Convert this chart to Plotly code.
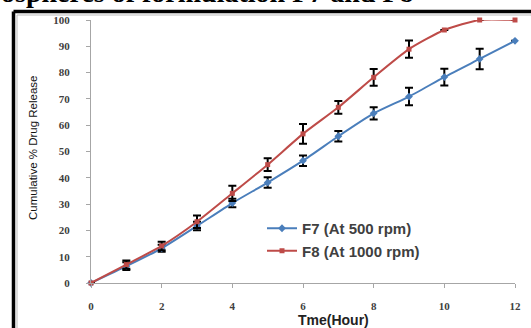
import plotly.graph_objects as go

time_h = [0, 1, 2, 3, 4, 5, 6, 7, 8, 9, 10, 11, 12]
f7_release = [0, 6.4, 13.2, 21.7, 30.4, 38.2, 46.5, 55.8, 64.5, 70.9, 78.3, 85.2, 92.1]
f7_err = [0, 1.5, 1.3, 1.6, 1.6, 2.0, 2.0, 2.0, 2.3, 3.3, 3.2, 3.9, 0]
f8_release = [0, 7.0, 14.1, 23.3, 34.1, 45.0, 56.7, 66.8, 78.2, 88.9, 96.2, 100, 100]
f8_err = [0, 1.6, 1.6, 2.4, 2.9, 2.4, 3.8, 2.4, 3.2, 3.3, 0, 0, 0]

x_ticks = [0, 2, 4, 6, 8, 10, 12]
y_ticks = [0, 10, 20, 30, 40, 50, 60, 70, 80, 90, 100]

# plot-area pixel geometry helpers
L, R, T, B = 91, 515, 20, 283
def px(x):
    return (x - L) / (R - L)
def py(y):
    return (B - y) / (B - T)

fig = go.Figure()

fig.add_trace(go.Scatter(
    x=time_h, y=f7_release, name="F7 (At 500 rpm)",
    mode="lines+markers", line=dict(color="#4a7ebb", width=2, shape="spline", smoothing=0.6),
    marker=dict(symbol="diamond", size=6, color="#4a7ebb"),
    error_y=dict(type="data", array=f7_err, visible=True, color="black", thickness=2, width=4),
    cliponaxis=False,
))
fig.add_trace(go.Scatter(
    x=time_h, y=f8_release, name="F8 (At 1000 rpm)",
    mode="lines+markers", line=dict(color="#be4b48", width=2, shape="spline", smoothing=0.6),
    marker=dict(symbol="square", size=5, color="#be4b48"),
    error_y=dict(type="data", array=f8_err, visible=True, color="black", thickness=2, width=4),
    cliponaxis=False,
))

tick_font = dict(family="Liberation Serif", size=11, color="#404040", weight="bold")

fig.update_layout(
    width=531, height=328,
    margin=dict(l=L, r=531 - R, t=T, b=328 - B, autoexpand=False),
    paper_bgcolor="white", plot_bgcolor="white",
    showlegend=True,
    legend=dict(x=px(262), y=py(212), xanchor="left", yanchor="top",
                font=dict(family="Liberation Sans", size=15, color="#404040", weight="bold"),
                bgcolor="rgba(0,0,0,0)", tracegroupgap=0),
    xaxis=dict(range=[0, 12], tickvals=x_ticks, showgrid=False, zeroline=False,
               showline=True, linecolor="#a6a6a6", linewidth=1,
               ticks="outside", ticklen=4, tickcolor="#a6a6a6",
               ticklabelstandoff=9,
               tickfont=tick_font),
    yaxis=dict(range=[0, 100], tickvals=y_ticks, showgrid=False, zeroline=False,
               showline=True, linecolor="#a6a6a6", linewidth=1,
               ticks="outside", ticklen=4, tickcolor="#a6a6a6",
               ticklabelstandoff=14,
               tickfont=tick_font),
)

# axis titles
fig.add_annotation(text="Tme(Hour)", xref="paper", yref="paper", x=px(333), y=py(320),
                   xanchor="center", yanchor="middle", showarrow=False,
                   font=dict(family="Liberation Sans", size=14, color="#222222", weight="bold"))
fig.add_annotation(text="Cumulative % Drug Release", xref="paper", yref="paper", x=px(33), y=py(148),
                   xanchor="center", yanchor="middle", showarrow=False, textangle=-90,
                   font=dict(family="Liberation Sans", size=11.5, color="#111111"))

# Cropped heading at the top
fig.add_annotation(text="ospheres of formulation F7 and F8", xref="paper", yref="paper",
                   x=px(-1), y=py(10), xanchor="left", yanchor="bottom",
                   showarrow=False, font=dict(family="Liberation Serif", size=28, color="black", weight="bold"))

# Thick black border (left & top)
lx = px(13.5)
ty = py(11.5)
fig.add_shape(type="line", xref="paper", yref="paper", x0=lx, x1=lx, y0=ty, y1=py(340),
              line=dict(color="black", width=3.5))
fig.add_shape(type="line", xref="paper", yref="paper", x0=lx, x1=px(540), y0=ty, y1=ty,
              line=dict(color="black", width=3.5))
# thin grey inner frame
gx = px(17)
gy = py(15)
fig.add_shape(type="line", xref="paper", yref="paper", x0=gx, x1=gx, y0=gy, y1=py(340),
              line=dict(color="#bbbbbb", width=1))
fig.add_shape(type="line", xref="paper", yref="paper", x0=gx, x1=px(540), y0=gy, y1=gy,
              line=dict(color="#bbbbbb", width=1))

fig.write_html("out.html", config={"displayModeBar": False},
               post_script="document.body.style.margin='0';document.body.style.overflow='hidden';")
